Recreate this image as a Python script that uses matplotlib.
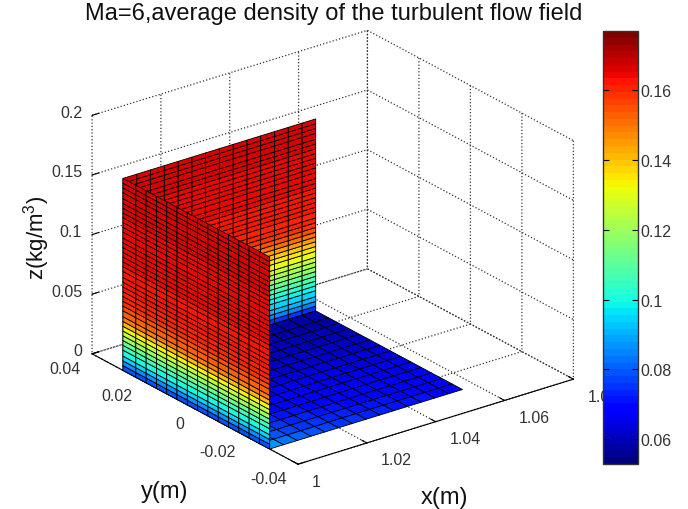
import matplotlib
matplotlib.use("Agg")
import matplotlib.pyplot as plt
import numpy as np
from matplotlib.cm import ScalarMappable
from matplotlib.colors import Normalize
from mpl_toolkits.mplot3d import proj3d

plt.rcParams['font.family'] = ['Liberation Sans', 'DejaVu Sans']
plt.rcParams['mathtext.default'] = 'regular'

# grid of the surface
x_grid = [1.0, 1.004, 1.008, 1.012, 1.016, 1.02, 1.024, 1.028, 1.032, 1.036, 1.04, 1.044, 1.048, 1.052, 1.056]
y_grid = [-0.029, -0.025, -0.021, -0.017, -0.013, -0.009, -0.005, -0.001, 0.003, 0.007, 0.011, 0.015, 0.019, 0.023, 0.028]
wall_z = [0, .004, .008, .012, .017, .021, .025, .029, .033, .037, .041, .045, .050, .054, .058, .062, .066, .070, .074, .078,
          .083, .087, .091, .095, .099, .103, .107, .111, .116, .120, .124, .128, .132, .136, .140, .144, .149, .153, .157, .161]

# density per row of the two walls, bottom to top
front_density = [.080, .087, .094, .100, .106, .113, .120, .126, .134, .142,
                 .148, .152, .155, .158, .160, .161, .162, .162, .163, .163,
                 .163, .164, .164, .164, .164, .165, .165, .165, .165, .165,
                 .165, .166, .166, .166, .166, .167, .167, .167, .167]
back_density = [.075, .084, .090, .095, .099, .103, .108, .112, .117, .121,
                .126, .131, .135, .140, .145, .150, .154, .158, .160, .161,
                .162, .162, .163, .163, .163, .164, .164, .164, .164, .165,
                .165, .165, .165, .166, .166, .166, .166, .167, .167]

# density of the floor cells, row = y, column = x
floor_density = [
    [.086, .083, .081, .079, .077, .076, .075, .074, .073, .072, .071, .071, .070, .070],
    [.083, .080, .078, .076, .075, .074, .073, .072, .071, .071, .070, .070, .069, .069],
    [.080, .077, .075, .074, .073, .072, .071, .070, .070, .069, .069, .068, .068, .068],
    [.077, .075, .073, .072, .071, .070, .069, .069, .068, .068, .067, .067, .067, .067],
    [.075, .073, .071, .070, .069, .069, .068, .067, .067, .067, .066, .066, .066, .066],
    [.073, .071, .069, .068, .068, .067, .067, .066, .066, .066, .065, .065, .065, .065],
    [.071, .069, .068, .067, .066, .066, .065, .065, .065, .065, .064, .064, .064, .064],
    [.069, .067, .066, .065, .065, .064, .064, .064, .063, .063, .063, .063, .063, .063],
    [.067, .066, .065, .064, .063, .063, .063, .062, .062, .062, .062, .062, .062, .062],
    [.065, .064, .063, .062, .062, .062, .061, .061, .061, .061, .061, .061, .061, .061],
    [.063, .062, .061, .061, .061, .060, .060, .060, .060, .060, .060, .060, .060, .060],
    [.061, .060, .060, .060, .059, .059, .059, .059, .059, .059, .059, .059, .059, .059],
    [.060, .059, .059, .058, .058, .058, .058, .058, .058, .058, .058, .058, .058, .058],
    [.059, .058, .057, .057, .057, .057, .057, .057, .057, .057, .057, .057, .057, .057],
]

x_ticks = [1, 1.02, 1.04, 1.06, 1.08]
x_labels = ['1', '1.02', '1.04', '1.06', '1.08']
y_ticks = [-0.04, -0.02, 0, 0.02, 0.04]
y_labels = ['-0.04', '-0.02', '0', '0.02', '0.04']
z_ticks = [0, 0.05, 0.1, 0.15, 0.2]
z_labels = ['0', '0.05', '0.1', '0.15', '0.2']
bar_ticks = [0.06, 0.08, 0.1, 0.12, 0.14, 0.16]
bar_labels = ['0.06', '0.08', '0.1', '0.12', '0.14', '0.16']

W, H = 688, 510
fig = plt.figure(figsize=(W / 100, H / 100), dpi=100)
ax = fig.add_axes([58 / W, -13 / H, 535 / W, 535 / H], projection='3d', proj_type='ortho',
                  computed_zorder=False)
ax.view_init(elev=24, azim=-127.2)
ax.set_box_aspect((345, 340, 260.5))
ax.set_xlim(1, 1.08, view_margin=0)
ax.set_ylim(-0.04, 0.04, view_margin=0)
ax.set_zlim(0, 0.2, view_margin=0)

cmap = matplotlib.colormaps['jet'].resampled(64)
norm = Normalize(0.0529, 0.177)

x = np.array(x_grid)
y = np.array(y_grid)
z = np.array(wall_z)
ncol = len(x) - 1


def rows_to_colors(rows):
    return cmap(norm(np.tile(np.array(rows)[:, None], (1, ncol))))


style = dict(rstride=1, cstride=1, edgecolor='black', linewidth=0.6, shade=False, antialiased=True)

# back wall along x
X, Z = np.meshgrid(x, z)
ax.plot_surface(X, np.full_like(X, y[-1]), Z, facecolors=rows_to_colors(back_density), zorder=3, **style)
# floor
X, Y = np.meshgrid(x, y)
ax.plot_surface(X, Y, np.zeros_like(X), facecolors=cmap(norm(np.array(floor_density))), zorder=4, **style)
# front wall along y
Y, Z = np.meshgrid(y, z)
ax.plot_surface(np.full_like(Y, x[0]), Y, Z, facecolors=rows_to_colors(front_density), zorder=5, **style)

ax.set_xticks(x_ticks)
ax.set_yticks(y_ticks)
ax.set_zticks(z_ticks)
ax.set_xticklabels([])
ax.set_yticklabels([])
ax.set_zticklabels([])

for axis in (ax.xaxis, ax.yaxis, ax.zaxis):
    axis.set_pane_color((1, 1, 1, 0))
    axis.pane.set_edgecolor((1, 1, 1, 0))
    axis._axinfo['grid'].update(color='#333333', linestyle=':', linewidth=0.9)
    axis._axinfo['tick'].update(inward_factor=0.0, outward_factor=0.3)
ax.zaxis.line.set_color((1, 1, 1, 0))


# tick labels sit at a fixed pixel offset from the projected tick, like the matlab ones
def tick_label(px, py, pz, text, dx, dy, ha):
    sx, sy, _ = proj3d.proj_transform(px, py, pz, ax.get_proj())
    ax.annotate(text, xy=(sx, sy), xytext=(dx, dy), textcoords='offset pixels', ha=ha, va='center',
                fontsize=11.5, color='#333333', annotation_clip=False)


for t, lab in zip(x_ticks, x_labels):
    tick_label(t, -0.04, 0, lab, 14, -17, 'left')
for t, lab in zip(y_ticks, y_labels):
    tick_label(1, t, 0, lab, -11, -14.5, 'right')
for t, lab in zip(z_ticks, z_labels):
    tick_label(1, 0.04, t, lab, -10, 3, 'right')

fig.text(334 / W, 1 - 14 / H, 'Ma=6,average density of the turbulent flow field', ha='center', va='center', fontsize=17, color='#111111')
fig.text(37 / W, 1 - 238 / H, 'z(kg/m$^{3}$)', rotation=90, ha='center', va='center', fontsize=16, color='#111111')
fig.text(165 / W, 1 - 492 / H, 'y(m)', ha='center', va='center', fontsize=17, color='#111111')
fig.text(444 / W, 1 - 498 / H, 'x(m)', ha='center', va='center', fontsize=17, color='#111111')

cax = fig.add_axes([603 / W, 1 - 465 / H, 35 / W, 433 / H], zorder=10)
cb = fig.colorbar(ScalarMappable(norm=norm, cmap=cmap), cax=cax)
cb.set_ticks(bar_ticks)
cb.set_ticklabels(bar_labels)
cax.tick_params(direction='in', length=4, left=True, right=True, labelleft=False, labelright=True,
                labelsize=11.5, labelcolor='#333333', pad=1.5)
cb.outline.set_linewidth(1)
cb.outline.set_edgecolor('#333333')

fig.savefig('out.png', dpi=100)
